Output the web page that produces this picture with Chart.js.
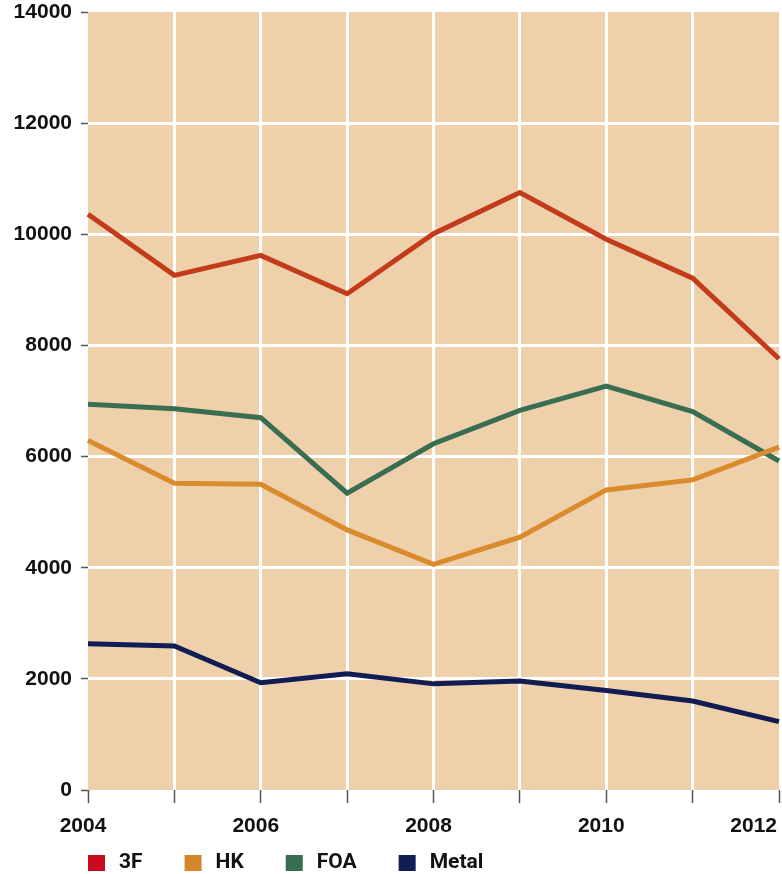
<!DOCTYPE html>
<html>
<head>
<meta charset="utf-8">
<script src="https://cdn.jsdelivr.net/npm/chart.js@4.4.1/dist/chart.umd.min.js"></script>
<style>
  html, body { margin: 0; padding: 0; background: #fff; }
</style>
</head>
<body>
<canvas id="chart" width="782" height="874"></canvas>
<script>
// data
const years = ["2004", "2005", "2006", "2007", "2008", "2009", "2010", "2011", "2012"];
const seriesNames = ["3F", "HK", "FOA", "Metal"];
const values3F = [10360, 9260, 9620, 8930, 10010, 10750, 9910, 9210, 7760];
const valuesHK = [6290, 5520, 5500, 4680, 4060, 4550, 5400, 5580, 6170];
const valuesFOA = [6940, 6860, 6700, 5340, 6230, 6830, 7270, 6810, 5920];
const valuesMetal = [2630, 2590, 1930, 2090, 1910, 1960, 1790, 1600, 1230];
const yMin = 0, yMax = 14000, yStep = 2000;

const lineColors = ["#c23b1b", "#d98b2e", "#3a6e53", "#111c52"];
const legendColors = ["#c8091e", "#d4862a", "#376e52", "#111d55"];
const allValues = [values3F, valuesHK, valuesFOA, valuesMetal];

const labelFont = 'bold 21px "Liberation Sans", Arial, sans-serif';
const legendFont = 'bold 21px "Liberation Sans Narrow", Roboto, sans-serif';

// beige plot area
const plotBackground = {
    id: "plotBackground",
    beforeDraw(chart) {
        const a = chart.chartArea;
        const ctx = chart.ctx;
        ctx.save();
        ctx.fillStyle = "#eed0aa";
        ctx.fillRect(a.left, a.top, a.right - a.left, a.bottom - a.top);
        ctx.restore();
    }
};

// every other year under the axis, plus a simple square legend
const bottomText = {
    id: "bottomText",
    afterDraw(chart) {
        const ctx = chart.ctx;
        const xs = chart.scales.x;
        ctx.save();
        ctx.font = labelFont;
        ctx.fillStyle = "#111";
        ctx.textAlign = "center";
        ctx.textBaseline = "middle";
        years.forEach((yr, i) => {
            if (i % 2) return;
            const w = ctx.measureText(yr).width;
            let px = xs.getPixelForValue(i) - 5;
            px = Math.min(px, chart.width - 5 - w / 2);
            ctx.fillText(yr, px, xs.bottom + 23);
        });

        ctx.font = legendFont;
        ctx.textAlign = "left";
        let lx = chart.chartArea.left;
        const ly = 863;
        seriesNames.forEach((name, i) => {
            ctx.fillStyle = legendColors[i];
            ctx.fillRect(lx, ly - 8, 17, 16);
            ctx.fillStyle = "#111";
            ctx.fillText(name, lx + 31, ly);
            lx += 31 + ctx.measureText(name).width + 42;
        });
        ctx.restore();
    }
};

function edgeless(count) {
    return (c) => (c.index === 0 || c.index === count - 1) ? "rgba(0,0,0,0)" : "#ffffff";
}

new Chart(document.getElementById("chart"), {
    type: "line",
    data: {
        labels: years,
        datasets: seriesNames.map((name, i) => ({
            label: name,
            data: allValues[i],
            borderColor: lineColors[i],
            backgroundColor: lineColors[i],
            borderWidth: 5,
            pointRadius: 0,
            tension: 0,
            fill: false
        }))
    },
    options: {
        responsive: false,
        animation: false,
        layout: { padding: { left: 0, top: 12, right: 3, bottom: 71 } },
        plugins: {
            legend: { display: false },
            tooltip: { enabled: false }
        },
        scales: {
            x: {
                offset: false,
                border: { display: false },
                grid: {
                    color: edgeless(years.length),
                    lineWidth: 3,
                    tickColor: "#555",
                    tickWidth: 1.5,
                    tickLength: 13
                },
                ticks: { display: false }
            },
            y: {
                min: yMin,
                max: yMax,
                border: { display: false },
                grid: {
                    color: edgeless((yMax - yMin) / yStep + 1),
                    lineWidth: 3,
                    tickColor: "#555",
                    tickWidth: 1.5,
                    tickLength: 7
                },
                ticks: {
                    stepSize: yStep,
                    padding: 9,
                    color: "#111",
                    font: { family: '"Liberation Sans", Arial, sans-serif', size: 21, weight: "bold" },
                    callback: (v) => String(v)
                },
                afterFit(scale) {
                    scale.width = 88;
                    scale.paddingTop = 0;
                    scale.paddingBottom = 0;
                }
            }
        }
    },
    plugins: [plotBackground, bottomText]
});
</script>
</body>
</html>
